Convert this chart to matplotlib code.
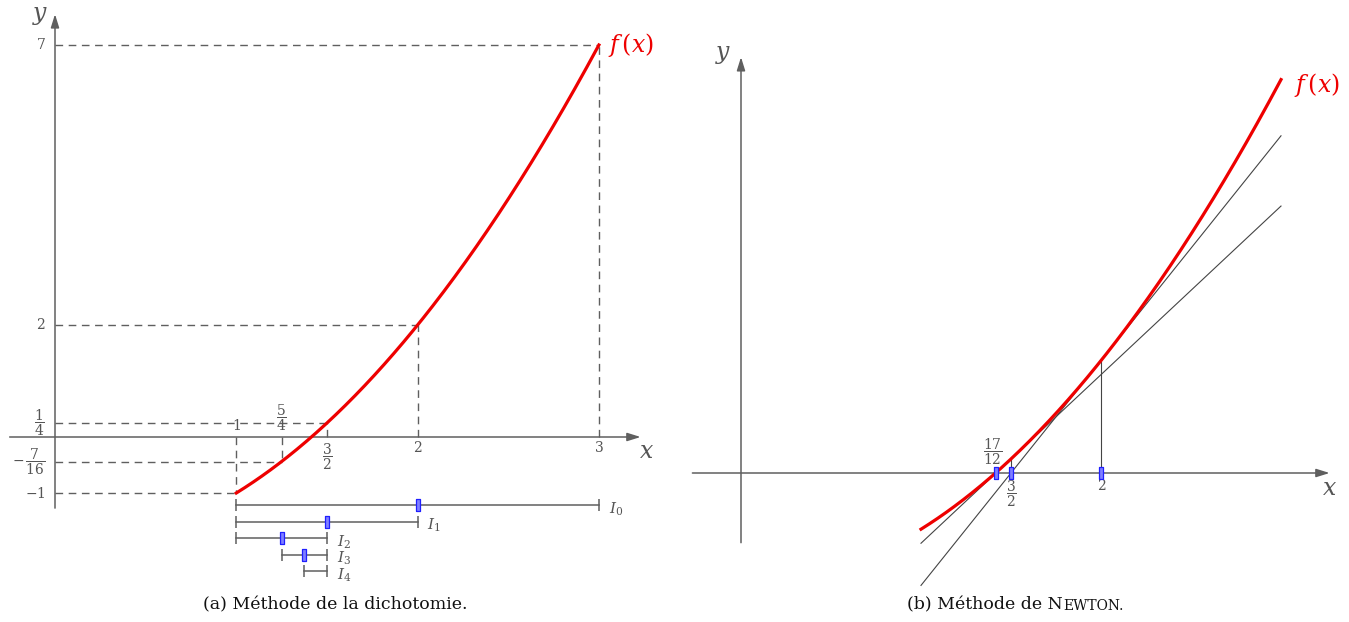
import numpy as np
import matplotlib
matplotlib.use('Agg')
import matplotlib.pyplot as plt

plt.rcParams['font.family'] = 'serif'
plt.rcParams['font.serif'] = ['DejaVu Serif']
plt.rcParams['mathtext.fontset'] = 'dejavuserif'

# f(x) = x^2 - 2 on [1, 3]
coeffs = [1, 0, -2]
x_start, x_end = 1.0, 3.0

# dichotomy: successive intervals and their midpoints
intervals = [(1.0, 3.0), (1.0, 2.0), (1.0, 1.5), (1.25, 1.5), (1.375, 1.5)]
interval_names = [r'$I_0$', r'$I_1$', r'$I_2$', r'$I_3$', r'$I_4$']
midpoints = [2.0, 1.5, 1.25, 1.375]

# marked points on the left graph: x value, f(x), x label, y label
mark_x = [1.0, 1.25, 1.5, 2.0, 3.0]
mark_xlabels = ['1', r'$\dfrac{5}{4}$', r'$\dfrac{3}{2}$', '2', '3']
mark_xlabel_above = [True, True, False, False, False]
mark_ylabels = ['$-1$', r'$-\,\dfrac{7}{16}$', r'$\dfrac{1}{4}$', '2', '7']

# Newton iterates
newton_x = [2.0, 1.5, 17 / 12]
newton_labels = ['2', r'$\dfrac{3}{2}$', r'$\dfrac{17}{12}$']
newton_label_above = [False, False, True]

f = np.poly1d(coeffs)
df = f.deriv()

GRAY = '#5f5f5f'
TXT = '#555555'
RED = '#ee0000'
W, H = 1349, 622
fig = plt.figure(figsize=(W / 100, H / 100), dpi=100)


def panel(px0, px1, py1, ox, sx, oy, sy):
    ax = fig.add_axes([px0 / W, (H - py1) / H, (px1 - px0) / W, py1 / H])
    ax.set_xlim((px0 - ox) / sx, (px1 - ox) / sx)
    ax.set_ylim((oy - py1) / sy, oy / sy)
    ax.axis('off')
    return ax


def arrow(ax, start, end):
    ax.annotate('', xy=end, xytext=start,
                arrowprops=dict(arrowstyle='-|>,head_length=0.8,head_width=0.25',
                                color=GRAY, lw=1.1, shrinkA=0, shrinkB=0))


bar_marker = [(-1, -3.6), (1, -3.6), (1, 3.6), (-1, 3.6), (-1, -3.6)]

# ---- (a) dichotomy -------------------------------------------------
ax = panel(0, 675, 590, 55, 181.3, 437, 56)
arrow(ax, (-0.25, 0), (3.23, 0))
arrow(ax, (0, -1.27), (0, 7.55))
ax.text(-0.08, 7.53, '$y$', fontsize=17, color=TXT, ha='center', va='center')
ax.text(3.26, -0.25, '$x$', fontsize=17, color=TXT, ha='center', va='center')

xs = np.linspace(x_start, x_end, 300)
ax.plot(xs, f(xs), color=RED, lw=2.3, zorder=5)
ax.text(3.05, 7.0, '$f\\,(x)$', fontsize=17, color=RED, ha='left', va='center')

for xv, xl, above, yl in zip(mark_x, mark_xlabels, mark_xlabel_above, mark_ylabels):
    yv = f(xv)
    ax.plot([0, xv], [yv, yv], ls=(0, (5.5, 4)), color=GRAY, lw=1)
    ax.plot([xv, xv], [0, yv], ls=(0, (5.5, 4)), color=GRAY, lw=1)
    if above:
        ax.annotate(xl, (xv, 0), xytext=(0, 3), textcoords='offset points',
                    fontsize=10, color=TXT, ha='center', va='bottom')
    else:
        ax.annotate(xl, (xv, 0), xytext=(0, -3), textcoords='offset points',
                    fontsize=10, color=TXT, ha='center', va='top')
    ax.annotate(yl, (0, yv), xytext=(-7, 0), textcoords='offset points',
                fontsize=10, color=TXT, ha='right', va='center')

row_y0, row_step = -1.214, 0.295
for i, ((lo, hi), name) in enumerate(zip(intervals, interval_names)):
    yr = row_y0 - i * row_step
    ax.plot([lo, hi], [yr, yr], color=GRAY, lw=1.1)
    ax.plot([lo, hi], [yr, yr], ls='none', marker='|', ms=9, mew=1.1, color=GRAY)
    ax.annotate(name, (hi, yr), xytext=(7, -3), textcoords='offset points',
                fontsize=11, color=TXT, ha='left', va='center')
for i, m in enumerate(midpoints):
    yr = row_y0 - i * row_step
    ax.plot([m], [yr], ls='none', marker=bar_marker, ms=9, mfc='#8080ff',
            mec='#2020ff', mew=0.9, zorder=6)

fig.text(335 / W, 1 - 605 / H, '(a) Méthode de la dichotomie.', fontsize=12.5,
         color='#111111', ha='center', va='center')

# ---- (b) Newton ----------------------------------------------------
ax = panel(680, 1349, 590, 741, 180, 473, 56.2)
arrow(ax, (-0.27, 0), (3.27, 0))
arrow(ax, (0, -1.24), (0, 7.4))
ax.text(-0.1, 7.45, '$y$', fontsize=17, color=TXT, ha='center', va='center')
ax.text(3.27, -0.27, '$x$', fontsize=17, color=TXT, ha='center', va='center')

ax.plot(xs, f(xs), color=RED, lw=2.3, zorder=5)
ax.text(3.07, 6.9, '$f\\,(x)$', fontsize=17, color=RED, ha='left', va='center')

for xn in newton_x[:2]:
    # tangent at x_n and the vertical up to the curve
    tx = np.array([x_start, x_end])
    ax.plot(tx, f(xn) + df(xn) * (tx - xn), color='#444444', lw=0.8)
    ax.plot([xn, xn], [0, f(xn)], color='#444444', lw=0.8)

for xn, lab, above in zip(newton_x, newton_labels, newton_label_above):
    ax.plot([xn], [0], ls='none', marker=bar_marker, ms=9, mfc='#8080ff',
            mec='#2020ff', mew=0.9, zorder=6)
    if above:
        ax.annotate(lab, (xn, 0), xytext=(-2, 4), textcoords='offset points',
                    fontsize=10, color=TXT, ha='center', va='bottom')
    else:
        ax.annotate(lab, (xn, 0), xytext=(0, -4), textcoords='offset points',
                    fontsize=10, color=TXT, ha='center', va='top')

fig.text(1063 / W, 1 - 605 / H, '(b) Méthode de N', fontsize=12.5,
         color='#111111', ha='right', va='center')
fig.text(1063 / W, 1 - 605.5 / H, 'EWTON.', fontsize=10, color='#111111',
         ha='left', va='center')

fig.savefig('out.png', dpi=100)
